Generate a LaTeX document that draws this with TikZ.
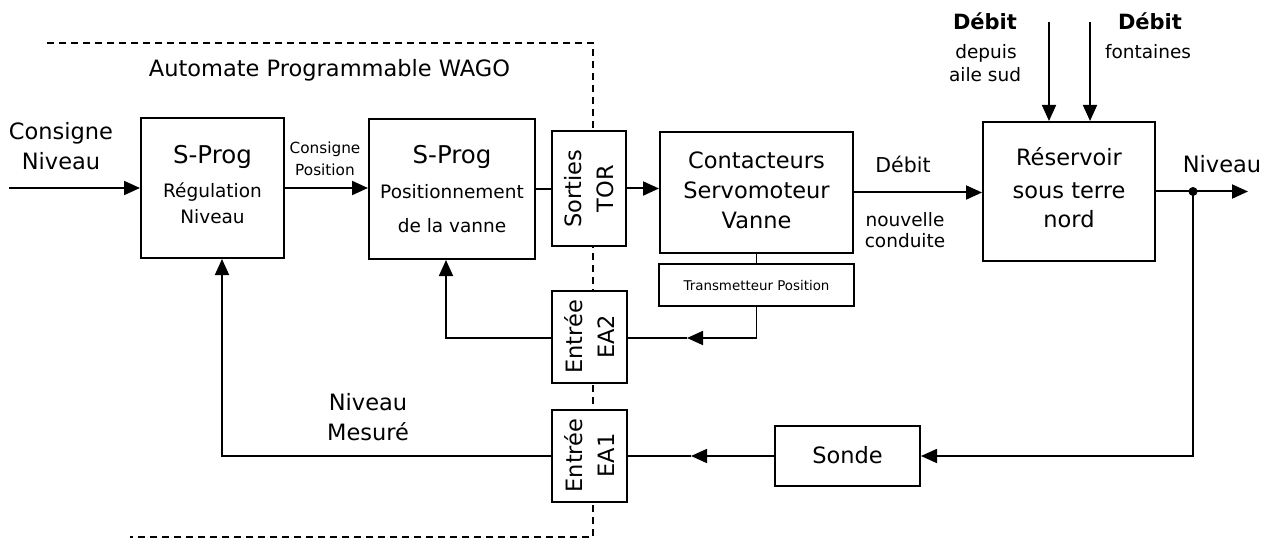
\documentclass[tikz,border=0pt]{standalone}
\usepackage{fontspec}
\setmainfont{DejaVu Sans}
\usetikzlibrary{arrows.meta}
\begin{document}
\begin{tikzpicture}[x=1pt,y=-1pt,
  box/.style={draw, line width=2pt, fill=white, inner sep=0pt},
  ln/.style={line width=2pt},
  fln/.style={line width=1.7pt},
  tip/.style={-{Triangle[length=16pt,width=14pt]}},
  arr/.style={ln, tip},
  farr/.style={fln, tip},
  bnd/.style={line width=1.7pt, dash pattern=on 7pt off 5pt},
  T/.style={inner sep=0pt, anchor=base},
  fa/.style={font=\fontsize{22.5}{27}\selectfont},
  fsp/.style={font=\fontsize{24.5}{29}\selectfont},
  fb/.style={font=\fontsize{18.5}{22}\selectfont},
  fc/.style={font=\fontsize{15.3}{18}\selectfont},
  fd/.style={font=\fontsize{13.4}{16}\selectfont},
  fm/.style={font=\fontsize{20.5}{24}\selectfont},
  fbold/.style={font=\fontsize{21}{25}\selectfont\bfseries},
  rot/.style={rotate=90, align=center, inner sep=0pt, font=\fontsize{22.5}{31.5}\selectfont}]
\useasboundingbox (0,0) rectangle (1268,540);

% dashed boundary of the PLC
\coordinate (d1) at (47,43);
\coordinate (d2) at (593,43);
\coordinate (d3) at (593,537);
\coordinate (d4) at (130,537);
\draw[bnd] (d1) -- (d2) -- (d3) -- (d4);
\node[T, fa] (wago) at (329.5,77) {Automate Programmable WAGO};

% boxes
\node[box, minimum width=143pt, minimum height=140pt] (reg) at (212.5,188) {};
\node[box, minimum width=166pt, minimum height=140pt] (pos) at (452,189) {};
\node[box, minimum width=74pt, minimum height=115pt] (tor) at (589,188.5) {};
\node[box, minimum width=75pt, minimum height=92pt] (ea2) at (589.5,337) {};
\node[box, minimum width=75pt, minimum height=92pt] (ea1) at (589.5,455.5) {};
\node[box, minimum width=193pt, minimum height=121pt] (cont) at (756.5,192.5) {};
\node[box, minimum width=195pt, minimum height=42pt] (trans) at (756.5,285) {};
\node[box, minimum width=172pt, minimum height=139pt] (res) at (1069,191.5) {};
\node[box, minimum width=145pt, minimum height=60pt] (sonde) at (847.5,456) {};

% box texts
\node[T, fsp] (reg1) at (212.5,164) {S-Prog};
\node[T, fb] (reg2) at (212.5,197) {Régulation};
\node[T, fb] (reg3) at (212.5,223) {Niveau};
\node[T, fsp] (pos1) at (452,164) {S-Prog};
\node[T, fb] (pos2) at (452,198) {Positionnement};
\node[T, fb] (pos3) at (452,233) {de la vanne};
\node[rot] (tortxt) at (tor.center) {Sorties\\TOR};
\node[rot] (ea2txt) at (ea2.center) {Entrée\\EA2};
\node[rot] (ea1txt) at (ea1.center) {Entrée\\EA1};
\node[T, fa] (cont1) at (756.5,168) {Contacteurs};
\node[T, fa] (cont2) at (756.5,199) {Servomoteur};
\node[T, fa] (cont3) at (756.5,228) {Vanne};
\node[T, fd] (transtxt) at (756.5,290) {Transmetteur Position};
\node[T, fa] (res1) at (1069,166) {Réservoir};
\node[T, fa] (res2) at (1069,198) {sous terre};
\node[T, fa] (res3) at (1069,227) {nord};
\node[T, fa] (sondetxt) at (847.5,463) {Sonde};

% free labels
\node[T, fa] (cn1) at (61,140) {Consigne};
\node[T, fa] (cn2) at (61,170) {Niveau};
\node[T, fc] (cp1) at (325,154) {Consigne};
\node[T, fc] (cp2) at (325,175.5) {Position};
\node[T, fm] (deb) at (903,172.5) {Débit};
\node[T, fb] (nc1) at (905,226) {nouvelle};
\node[T, fb] (nc2) at (905,247) {conduite};
\node[T, fa] (niv) at (1222,173) {Niveau};
\node[T, fbold] (debA) at (985,30) {Débit};
\node[T, fb] (debA2) at (986,59) {depuis};
\node[T, fb] (debA3) at (985,82) {aile sud};
\node[T, fbold] (debB) at (1150,30) {Débit};
\node[T, fb] (debB2) at (1148,59) {fontaines};
\node[T, fa] (nm1) at (368,410) {Niveau};
\node[T, fa] (nm2) at (368,440) {Mesuré};

% forward path
\coordinate (in) at (9,188);
\draw[arr] (in) -- (reg.west);
\draw[arr] (reg.east) -- (reg.east -| pos.west);
\draw[ln] (pos.east) -- (pos.east -| tor.west);
\draw[arr] (tor.east) -- (tor.east -| cont.west);
\draw[arr] (cont.east) -- (cont.east -| res.west);
\coordinate (dot) at (1193,191.5);
\coordinate (out) at (1248,191.5);
\draw[ln] (res.east) -- (dot);
\draw[arr] (dot) -- (out);
\fill (dot) circle (4.5pt);

% inflows
\coordinate (q1) at (1049,22);
\coordinate (q2) at (1090,22);
\draw[farr] (q1) -- (q1 |- res.north);
\draw[farr] (q2) -- (q2 |- res.north);

% position feedback
\draw[fln] (cont.south) -- (trans.north);
\coordinate (m2) at (687,338);
\draw[farr] (trans.south) |- (m2);
\draw[fln] (m2) -- (m2 -| ea2.east);
\coordinate (fb2) at (446,338);
\draw[farr] (ea2.west |- m2) -- (fb2) -- (fb2 |- pos.south);

% level feedback
\draw[farr] (dot) |- (sonde.east);
\coordinate (m1) at (691,456);
\draw[farr] (sonde.west) -- (m1);
\draw[fln] (m1) -- (m1 -| ea1.east);
\coordinate (fb1) at (222,456);
\draw[farr] (ea1.west |- m1) -- (fb1) -- (fb1 |- reg.south);
\end{tikzpicture}
\end{document}
